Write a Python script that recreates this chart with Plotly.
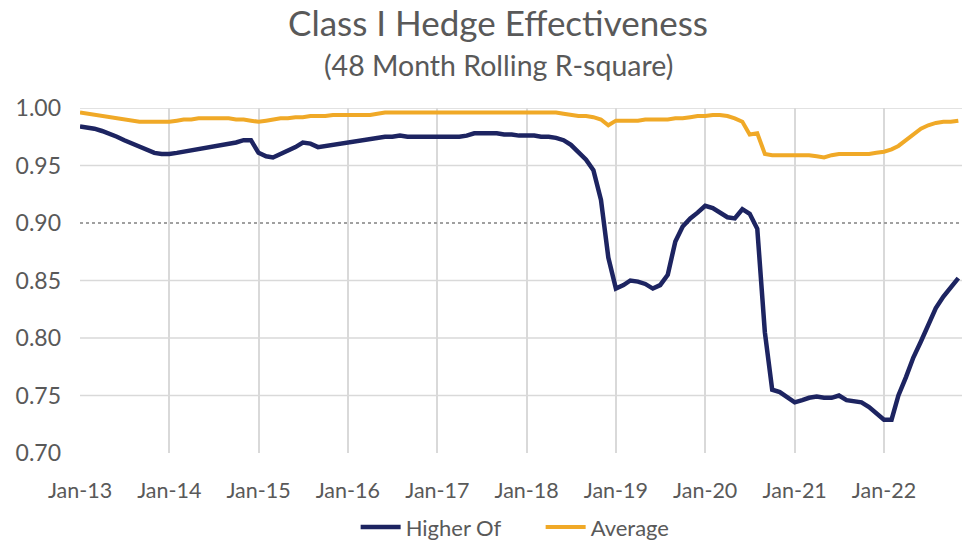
import pandas as pd
import plotly.graph_objects as go

# Monthly observations, Jan-2013 .. Nov-2022
DATES = pd.date_range("2013-01-01", periods=119, freq="MS")

HIGHER_OF = [
    0.984, 0.983, 0.982, 0.980, 0.978, 0.975, 0.972, 0.969, 0.966, 0.963, 0.961, 0.960,   # 2013
    0.960, 0.961, 0.962, 0.964, 0.965, 0.966, 0.967, 0.968, 0.969, 0.970, 0.972, 0.972,   # 2014
    0.961, 0.958, 0.957, 0.960, 0.963, 0.966, 0.970, 0.969, 0.966, 0.967, 0.968, 0.969,   # 2015
    0.970, 0.971, 0.972, 0.973, 0.974, 0.975, 0.975, 0.976, 0.975, 0.975, 0.975, 0.975,   # 2016
    0.975, 0.975, 0.975, 0.975, 0.976, 0.978, 0.978, 0.978, 0.978, 0.977, 0.977, 0.976,   # 2017
    0.976, 0.976, 0.975, 0.975, 0.974, 0.972, 0.968, 0.962, 0.955, 0.946, 0.920, 0.870,   # 2018
    0.843, 0.846, 0.850, 0.849, 0.847, 0.843, 0.846, 0.855, 0.884, 0.897, 0.904, 0.909,   # 2019
    0.915, 0.913, 0.909, 0.905, 0.904, 0.912, 0.908, 0.895, 0.805, 0.755, 0.753, 0.749,   # 2020
    0.744, 0.746, 0.748, 0.749, 0.748, 0.748, 0.750, 0.746, 0.745, 0.744, 0.740, 0.734,   # 2021
    0.729, 0.729, 0.750, 0.766, 0.783, 0.797, 0.812, 0.826, 0.836, 0.844, 0.852,          # 2022
]

AVERAGE = [
    0.996, 0.995, 0.994, 0.993, 0.992, 0.991, 0.990, 0.989, 0.988, 0.988, 0.988, 0.988,   # 2013
    0.988, 0.989, 0.990, 0.990, 0.991, 0.991, 0.991, 0.991, 0.991, 0.990, 0.990, 0.989,   # 2014
    0.988, 0.989, 0.990, 0.991, 0.991, 0.992, 0.992, 0.993, 0.993, 0.993, 0.994, 0.994,   # 2015
    0.994, 0.994, 0.994, 0.994, 0.995, 0.996, 0.996, 0.996, 0.996, 0.996, 0.996, 0.996,   # 2016
    0.996, 0.996, 0.996, 0.996, 0.996, 0.996, 0.996, 0.996, 0.996, 0.996, 0.996, 0.996,   # 2017
    0.996, 0.996, 0.996, 0.996, 0.996, 0.995, 0.994, 0.993, 0.993, 0.992, 0.990, 0.985,   # 2018
    0.989, 0.989, 0.989, 0.989, 0.990, 0.990, 0.990, 0.990, 0.991, 0.991, 0.992, 0.993,   # 2019
    0.993, 0.994, 0.994, 0.993, 0.991, 0.988, 0.977, 0.978, 0.960, 0.959, 0.959, 0.959,   # 2020
    0.959, 0.959, 0.959, 0.958, 0.957, 0.959, 0.960, 0.960, 0.960, 0.960, 0.960, 0.961,   # 2021
    0.962, 0.964, 0.967, 0.972, 0.977, 0.982, 0.985, 0.987, 0.988, 0.988, 0.989,          # 2022
]

SERIES_NAMES = ["Higher Of", "Average"]
Y_TICKS = [0.70, 0.75, 0.80, 0.85, 0.90, 0.95, 1.00]
THRESHOLD = 0.90
SOLID_GRID = [v for v in Y_TICKS if v not in (Y_TICKS[0], THRESHOLD)]

TITLE = "Class I Hedge Effectiveness"
SUBTITLE = "(48 Month Rolling R-square)"

NAVY = "#1d2461"
GOLD = "#f0a927"
TEXT = "#595959"
GRID = "#d9d9d9"
FONT = "Lato"
Y_RANGE = [Y_TICKS[0], Y_TICKS[-1]]

fig = go.Figure()
# empty helper trace so the grid-only overlay axis (dotted threshold line) gets drawn
fig.add_trace(go.Scatter(x=[DATES[0]], y=[None], yaxis="y3", mode="lines",
                         showlegend=False, hoverinfo="skip"))
fig.add_trace(go.Scatter(x=DATES, y=HIGHER_OF, name=SERIES_NAMES[0], mode="lines",
                         line=dict(color=NAVY, width=4.5)))
fig.add_trace(go.Scatter(x=DATES, y=AVERAGE, name=SERIES_NAMES[1], mode="lines",
                         line=dict(color=GOLD, width=4)))

# solid horizontal gridlines
for v in SOLID_GRID:
    fig.add_shape(type="line", xref="paper", x0=0, x1=1, yref="y", y0=v, y1=v,
                  line=dict(color=GRID, width=1.5), layer="below")

fig.add_annotation(text=TITLE, xref="paper", yref="paper", x=0.474, y=1.249,
                   showarrow=False, font=dict(family=FONT, size=35, color=TEXT),
                   xanchor="center", yanchor="middle")
fig.add_annotation(text=SUBTITLE, xref="paper", yref="paper", x=0.474, y=1.125,
                   showarrow=False, font=dict(family=FONT, size=28.5, color=TEXT),
                   xanchor="center", yanchor="middle")

fig.update_layout(
    width=962, height=544,
    margin=dict(l=80, r=0, t=108, b=91),
    paper_bgcolor="white", plot_bgcolor="white",
    font=dict(family=FONT, color=TEXT),
    showlegend=True,
    legend=dict(orientation="h", xref="container", yref="container",
                x=0.562, y=0.031, xanchor="center", yanchor="middle",
                font=dict(family=FONT, size=22, color=TEXT), itemwidth=40,
                entrywidth=130),
    xaxis=dict(type="date", range=["2013-01-01", "2022-11-16"],
               tickformat="%b-%y", dtick="M12", tick0="2013-01-01",
               showgrid=True, gridcolor=GRID, gridwidth=1.5,
               showline=False, zeroline=False, ticks="",
               tickfont=dict(family=FONT, size=21.5, color=TEXT),
               ticklabelstandoff=22),
    yaxis=dict(range=Y_RANGE, tickvals=Y_TICKS,
               tickformat=".2f", showgrid=False,
               showline=False, zeroline=False, ticks="",
               tickfont=dict(family=FONT, size=23, color=TEXT),
               ticklabelstandoff=18),
    yaxis3=dict(overlaying="y", range=Y_RANGE, tickvals=[THRESHOLD],
                showticklabels=False, showgrid=True, gridcolor="#a0a0a0", gridwidth=1.8,
                griddash="3px,3px", showline=False, zeroline=False, ticks=""),
)

fig.write_html("out.html")
